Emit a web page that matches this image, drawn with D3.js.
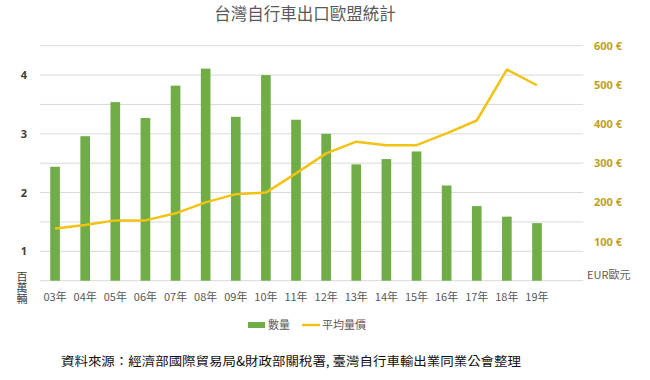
<!DOCTYPE html>
<html><head><meta charset="utf-8">
<script src="https://cdn.jsdelivr.net/npm/d3@7"></script>
<style>body{margin:0;background:#fff;}svg{display:block;}</style>
</head><body>
<svg id="c" width="650" height="380"></svg>
<script>
const years = ["03年","04年","05年","06年","07年","08年","09年","10年","11年","12年","13年","14年","15年","16年","17年","18年","19年"];
const quantity = [2.44,2.96,3.54,3.27,3.82,4.11,3.29,4.0,3.24,3.0,2.48,2.57,2.70,2.12,1.77,1.59,1.48];
const avgPrice = [133,142,154,154,172,200,221,225,274,325,355,346,346,376,409,539,499];
const leftTicks = [1,2,3,4];
const rightTicks = [100,200,300,400,500,600];
const gridSteps = [0.5,1,1.5,2,2.5,3,3.5,4,4.5];

const svg = d3.select("#c");
const cjk = "'Noto Sans CJK TC','Noto Sans CJK SC',sans-serif";
const pTop=45.7, pBottom=280.7, pLeft=40, pRight=583.3;
const x = d3.scaleBand().domain(years).range([pLeft, pLeft + 30.12*17]).paddingInner(0.68).paddingOuter(0.34);
const yL = d3.scaleLinear().domain([0.5,4.5]).range([pBottom, pTop]);
const yR = d3.scaleLinear().domain([0,600]).range([pBottom, pTop]);

// grid
svg.append("g").selectAll("line").data(gridSteps).join("line")
  .attr("x1",pLeft).attr("x2",pRight)
  .attr("y1",d=>yL(d)).attr("y2",d=>yL(d))
  .attr("stroke","#d9d9d9").attr("stroke-width",1);

// bars
svg.append("g").selectAll("rect").data(quantity).join("rect")
  .attr("x",(d,i)=>x(years[i])).attr("width",x.bandwidth())
  .attr("y",d=>yL(d)).attr("height",d=>pBottom-yL(d))
  .attr("fill","#70ad47");

// line
svg.append("path").datum(avgPrice)
  .attr("d", d3.line().x((d,i)=>x(years[i])+x.bandwidth()/2).y(d=>yR(d)))
  .attr("fill","none").attr("stroke","#f2c314").attr("stroke-width",2.5)
  .attr("stroke-linejoin","round");

// left axis
const axL = d3.axisLeft(yL).tickValues(leftTicks).tickSize(0).tickPadding(0).tickFormat(d3.format("d"));
const gL = svg.append("g").attr("transform","translate(27,0)").call(axL);
gL.select(".domain").remove();
gL.selectAll("text").attr("font-family","'Century Gothic','Noto Sans',sans-serif").attr("font-size",11).attr("font-weight","bold").attr("fill","#404040");

// right axis
const axR = d3.axisRight(yR).tickValues(rightTicks).tickSize(0).tickPadding(0).tickFormat(d=>d+" €");
const gR = svg.append("g").attr("transform","translate(594,0)").call(axR);
gR.select(".domain").remove();
gR.selectAll("text").attr("font-family","'Noto Sans',sans-serif").attr("font-size",11).attr("font-weight","bold").attr("fill","#bf9f22");

// x axis
const axX = d3.axisBottom(x).tickSize(0).tickPadding(0);
const gX = svg.append("g").attr("transform",`translate(0,${pBottom+12})`).call(axX);
gX.select(".domain").remove();
gX.selectAll("text").attr("font-family",cjk).attr("font-size",11).attr("fill","#595959");

// left unit label (vertical)
svg.append("text").attr("x",22).attr("y",271)
  .style("writing-mode","vertical-rl")
  .attr("font-family",cjk).attr("font-size",11).attr("fill","#404040").text("百萬輛");

svg.append("text").attr("x",587).attr("y",279).attr("font-family",cjk).attr("font-size",11)
  .attr("fill","#595959").text("EUR歐元");

// title
svg.append("text").attr("x",305).attr("y",20).attr("text-anchor","middle")
  .attr("font-family",cjk).attr("font-size",16.5).attr("fill","#595959").text("台灣自行車出口歐盟統計");

// legend
const lg = svg.append("g");
lg.append("rect").attr("x",248).attr("y",322).attr("width",17).attr("height",6).attr("fill","#70ad47");
lg.append("text").attr("x",268).attr("y",329).attr("font-family",cjk).attr("font-size",11).attr("fill","#595959").text("數量");
lg.append("line").attr("x1",302).attr("x2",320).attr("y1",325).attr("y2",325).attr("stroke","#f2c314").attr("stroke-width",2.5);
lg.append("text").attr("x",322).attr("y",329).attr("font-family",cjk).attr("font-size",11).attr("fill","#595959").text("平均量價");

// source
svg.append("text").attr("x",61).attr("y",366).attr("font-family",cjk).attr("font-size",12.5).attr("fill","#111")
  .attr("textLength",460).attr("lengthAdjust","spacingAndGlyphs")
  .text("資料來源：經濟部國際貿易局&財政部關稅署, 臺灣自行車輸出業同業公會整理");
</script>
</body></html>
